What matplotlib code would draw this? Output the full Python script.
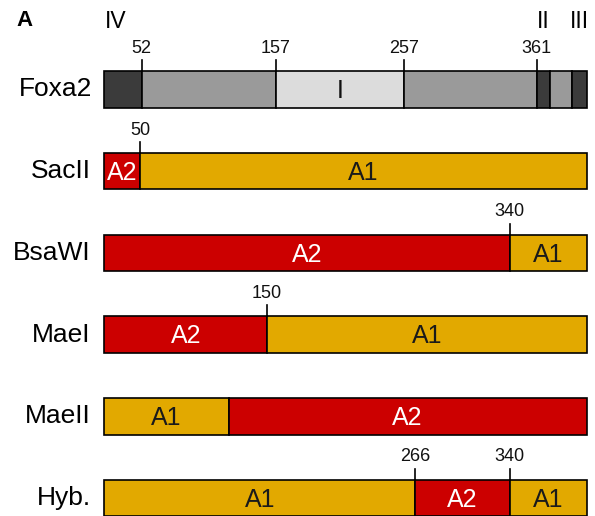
import numpy as np
import matplotlib
matplotlib.use("Agg")
import matplotlib.pyplot as plt

plt.rcParams['font.family'] = ['Liberation Sans', 'DejaVu Sans']

# Foxa2 domain map (residue boundaries), shades and labels
foxa2_bounds = [1, 52, 157, 257, 361, 388, 430, 459]
foxa2_shade = ["dark", "mid", "light", "mid", "dark", "mid", "dark"]
foxa2_inner = ["", "", "I", "", "", "", ""]
foxa2_ticks = [52, 157, 257, 361]
domain_names = {0: "IV", 4: "II", 6: "III"}

# allele constructs
constructs = ["SacII", "BsaWI", "MaeI", "MaeII", "Hyb."]
construct_bounds = [
    [1, 50, 459],
    [1, 340, 459],
    [1, 150, 459],
    [1, 120, 459],
    [1, 266, 340, 459],
]
construct_alleles = [
    ["A2", "A1"],
    ["A2", "A1"],
    ["A2", "A1"],
    ["A1", "A2"],
    ["A1", "A2", "A1"],
]
construct_ticks = [[50], [340], [150], [], [266, 340]]

shades = {"dark": "#3b3b3b", "mid": "#9a9a9a", "light": "#dcdcdc"}
allele_color = {"A1": "#E2A900", "A2": "#CC0000"}
allele_text = {"A1": "#1a1a1a", "A2": "white"}

# schematic (not-to-scale) x mapping: compressed termini
sch_res = [1, 52, 361, 459]
sch_pos = [0.0, 37.2, 432.2, 482.2]
fwd = lambda x: np.interp(x, sch_res, sch_pos)
inv = lambda x: np.interp(x, sch_pos, sch_res)

fig = plt.figure(figsize=(5.95, 5.16), dpi=100)
ax = fig.add_axes([104.5 / 595, 0, 482.2 / 595, 1])
ax.set_xscale('function', functions=(fwd, inv))
ax.set_xlim(1, 459)
ax.set_ylim(5.22, -1.095)
ax.axis('off')

h = 0.447
tick_len = 0.135
lab_off = 0.28


def draw_ticks(row, ticks):
    top = row - h / 2
    for t in ticks:
        ax.plot([t, t], [top - tick_len, top], color='black', lw=1.2,
                clip_on=False, zorder=3)
        ax.text(t, top - lab_off, str(t), ha='center', va='center',
                fontsize=13, color='#111111')


# Foxa2 row
for i in range(len(foxa2_shade)):
    s, e = foxa2_bounds[i], foxa2_bounds[i + 1]
    ax.barh(0, e - s, left=s, height=h, color=shades[foxa2_shade[i]],
            edgecolor='black', linewidth=1.2, clip_on=False)
    if foxa2_inner[i]:
        ax.text(inv((fwd(s) + fwd(e)) / 2), 0.02, foxa2_inner[i], ha='center',
                va='center', fontsize=18, color='#111111')
draw_ticks(0, foxa2_ticks)
for i, name in domain_names.items():
    s, e = foxa2_bounds[i], foxa2_bounds[i + 1]
    if i == 0:
        ax.text(s, -0.83, name, ha='left', va='center', fontsize=16.5)
    else:
        ax.text(inv((fwd(s) + fwd(e)) / 2), -0.83, name, ha='center',
                va='center', fontsize=16.5)
ax.annotate("Foxa2", xy=(1, 0), xytext=(-9, 0), textcoords='offset points',
            ha='right', va='center', fontsize=19, annotation_clip=False)

# construct rows
for r, name in enumerate(constructs, start=1):
    b = construct_bounds[r - 1]
    for j, al in enumerate(construct_alleles[r - 1]):
        s, e = b[j], b[j + 1]
        ax.barh(r, e - s, left=s, height=h, color=allele_color[al],
                edgecolor='black', linewidth=1.2, clip_on=False)
        ax.text(inv((fwd(s) + fwd(e)) / 2), r + 0.02, al, ha='center',
                va='center', fontsize=18, color=allele_text[al])
    draw_ticks(r, construct_ticks[r - 1])
    ax.annotate(name, xy=(1, r), xytext=(-10, 0), textcoords='offset points',
                ha='right', va='center', fontsize=19, annotation_clip=False)

fig.text(16 / 595, 1 - 21 / 516, "A", fontsize=16, fontweight='bold',
         ha='left', va='center')

fig.savefig('out.png', dpi=100)
